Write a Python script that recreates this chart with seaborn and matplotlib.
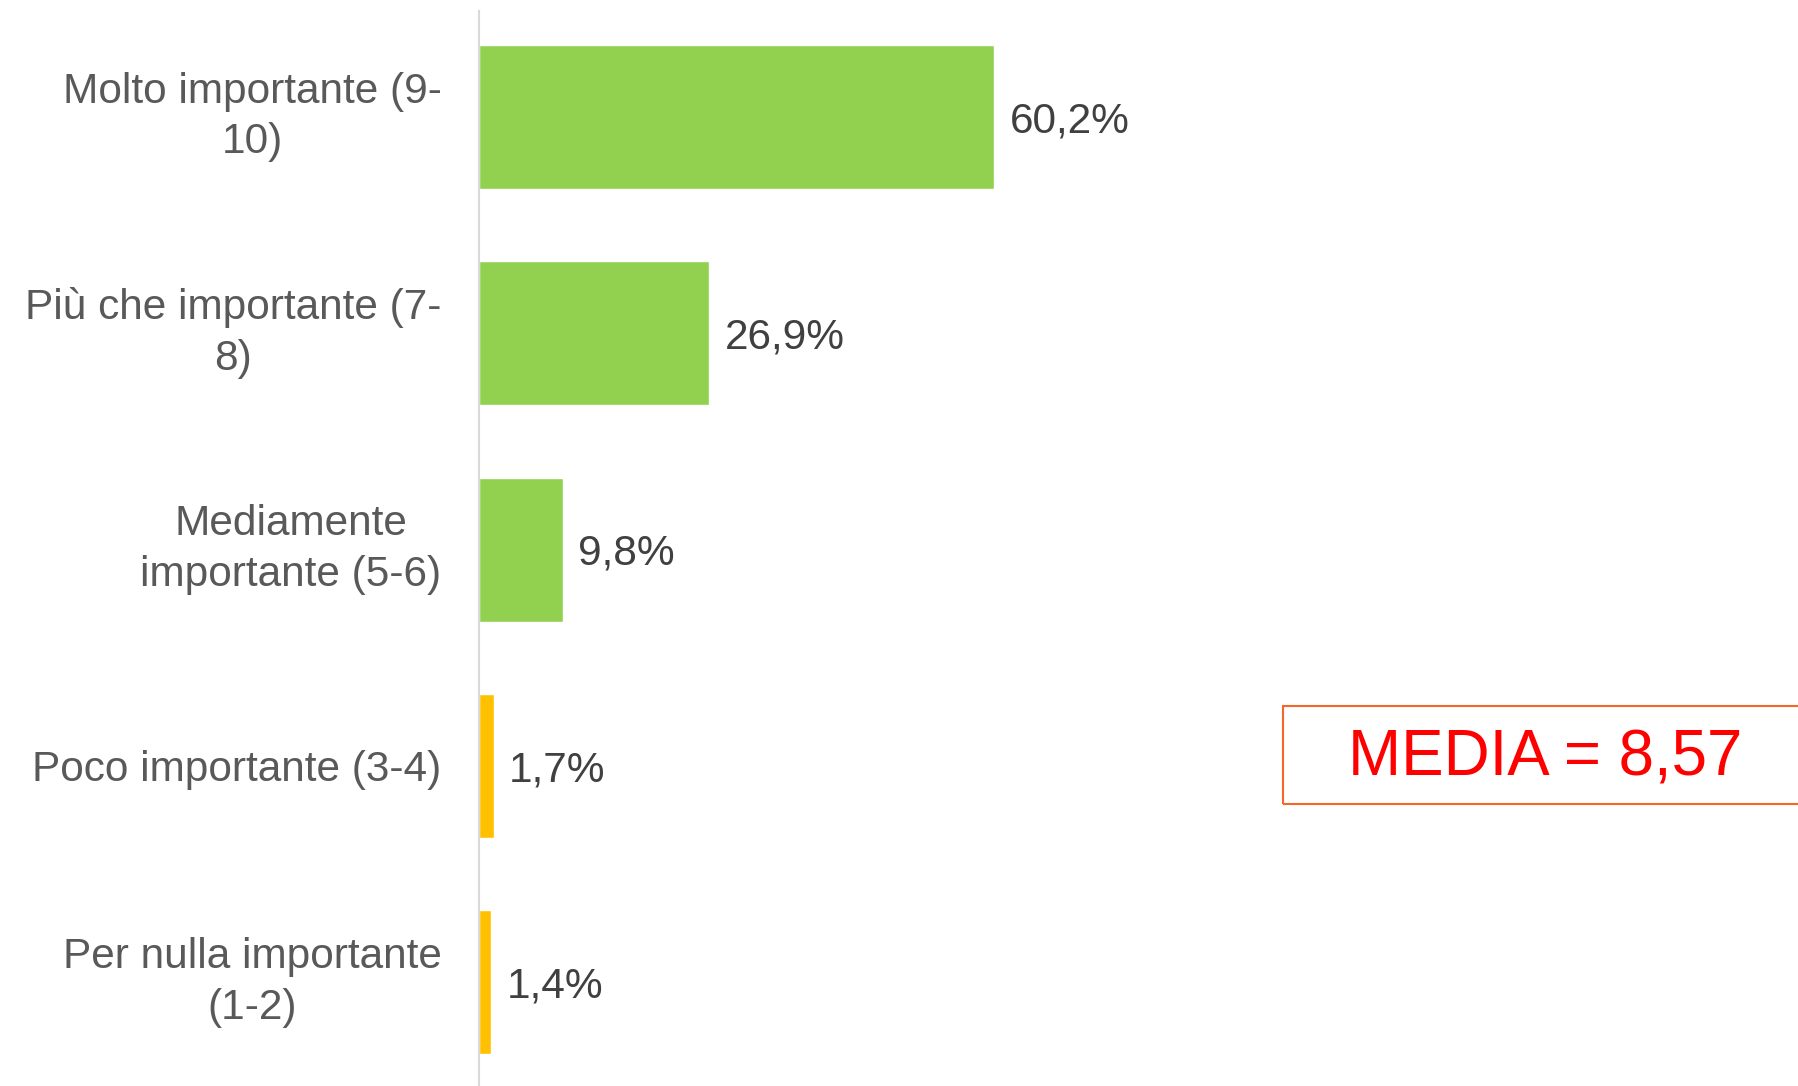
import matplotlib
matplotlib.use("Agg")
import matplotlib.pyplot as plt
import seaborn as sns
import pandas as pd
from matplotlib.patches import Rectangle

# --- Dati ---
categorie = [
    "Molto importante (9-\n10)",
    "Più che importante (7-\n8)",
    "Mediamente\nimportante (5-6)",
    "Poco importante (3-4)",
    "Per nulla importante\n(1-2)",
]
percentuali = [60.2, 26.9, 9.8, 1.7, 1.4]
colori = ["#92D050", "#92D050", "#92D050", "#FFC000", "#FFC000"]
etichette = ["60,2%", "26,9%", "9,8%", "1,7%", "1,4%"]
media_testo = "MEDIA = 8,57"

sns.set_theme(style="white")
plt.rcParams["font.family"] = ["Liberation Sans", "DejaVu Sans"]

df = pd.DataFrame({"categoria": categorie, "valore": percentuali})

fig = plt.figure(figsize=(17.98, 10.86), dpi=100)
ax = fig.add_axes([479 / 1798, 0.0, 1 - 479 / 1798, 1 - 11 / 1086])

sns.barplot(data=df, x="valore", y="categoria", hue="categoria",
            palette=colori, legend=False, width=0.665, saturation=1,
            orient="h", ax=ax)

ax.set_xlim(0, 154.1)
ax.set_ylim(4.48, -0.49)
ax.set_xlabel("")
ax.set_ylabel("")
ax.set_xticks([])

for s in ["top", "right", "bottom"]:
    ax.spines[s].set_visible(False)
ax.spines["left"].set_color("#D9D9D9")
ax.spines["left"].set_linewidth(1.5)

ax.tick_params(axis="y", length=0, pad=27)
for lab in ax.get_yticklabels():
    lab.set_fontsize(30.5)
    lab.set_color("#595959")
    lab.set_multialignment("center")
    lab.set_linespacing(1.35)
    if "\n" in lab.get_text():
        lab.set_verticalalignment("center")

# etichette valori (un container per ogni categoria con hue)
for i, cont in enumerate(ax.containers):
    bar = cont[0]
    ax.annotate(etichette[i],
                (bar.get_width(), bar.get_y() + bar.get_height() / 2),
                xytext=(11, -3), textcoords="offset points",
                ha="left", va="center", fontsize=30.5, color="#404040")

# box media
fig.patches.append(Rectangle((1283 / 1798, 1 - 804 / 1086), 0.4, 98 / 1086,
                             transform=fig.transFigure, fill=False,
                             edgecolor="#F4662A", linewidth=1.5))
fig.text(1545 / 1798, 1 - 759 / 1086, media_testo, ha="center", va="center",
         fontsize=45.8, color="#FF0000")

fig.savefig("out.png", dpi=100)
